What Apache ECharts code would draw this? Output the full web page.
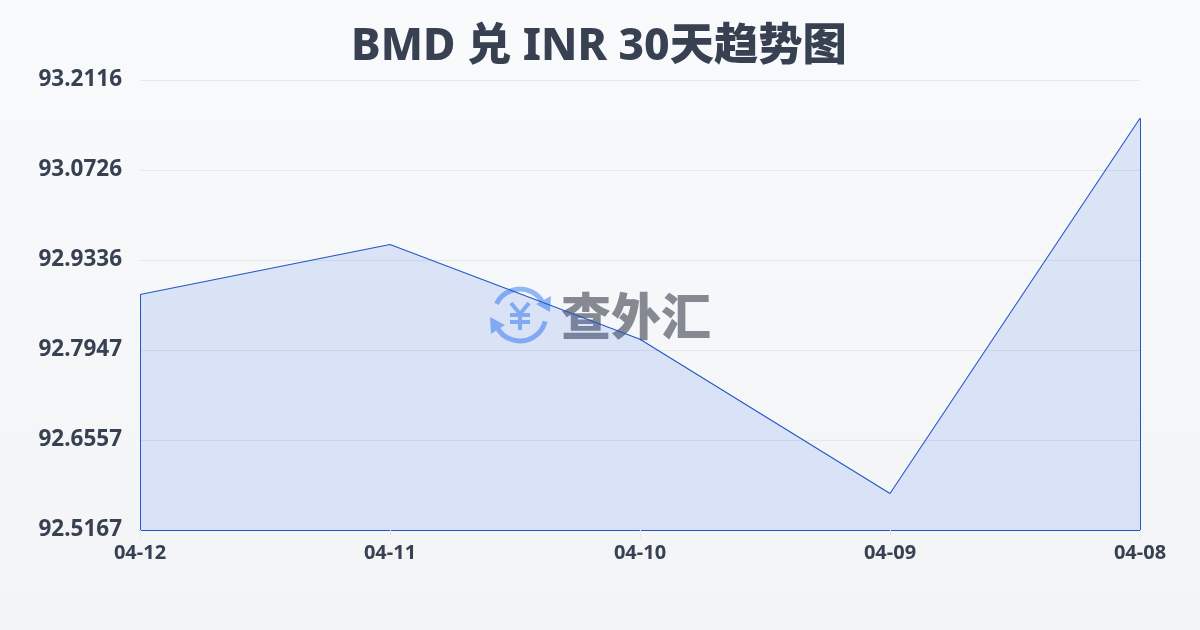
<!DOCTYPE html>
<html><head><meta charset="utf-8">
<style>html,body{margin:0;padding:0;width:1200px;height:630px;overflow:hidden}#c{width:1200px;height:630px}</style>
<script src="https://cdn.jsdelivr.net/npm/echarts@6/dist/echarts.min.js"></script>
</head><body><div id="c"></div>
<script>
const categories = ['04-12','04-11','04-10','04-09','04-08'];
const values = [92.8803, 92.9575, 92.8112, 92.5730, 93.1525];
const axisMin = 92.5167, axisMax = 93.2116;
const yTicks = [92.5167, 92.6557, 92.7947, 92.9336, 93.0726, 93.2116];
const titleText = 'BMD 兑 INR 30天趋势图';
const font = '"Noto Sans","Noto Sans CJK SC",sans-serif';
const blue = '#8fb6f5';
const lineColor = '#2357c6';
const n = categories.length - 1;
const chart = echarts.init(document.getElementById('c'), null, {renderer:'canvas'});
const bar = (x1,y1,x2,y2)=>({type:'line',shape:{x1,y1,x2,y2},style:{stroke:blue,lineWidth:4}});
chart.setOption({
  animation:false,
  backgroundColor:new echarts.graphic.LinearGradient(0,0,0,1,[{offset:0,color:'#f9fafc'},{offset:1,color:'#f3f4f6'}]),
  title:{text:titleText,left:594,textAlign:'center',top:20,textStyle:{fontFamily:font,fontSize:44.3,fontWeight:800,color:'#374151'}},
  grid:{left:140,right:60,top:80,bottom:100},
  xAxis:{type:'category',data:categories,boundaryGap:false,
    axisLine:{show:true,lineStyle:{color:lineColor,width:1}},
    axisTick:{show:true,length:8,lineStyle:{color:'#e9e9e4'}},
    axisLabel:{fontFamily:font,fontSize:20,fontWeight:700,color:'#374151',margin:13,
      hideOverlap:false,interval:0}},
  yAxis:{type:'value',min:axisMin,max:axisMax,
    axisLine:{show:false},axisTick:{show:false,customValues:yTicks},
    splitLine:{show:true,lineStyle:{color:'#e5e7eb',width:1}},
    axisLabel:{fontFamily:font,fontSize:22.5,fontWeight:700,color:'#374151',margin:18,
      verticalAlign:'middle',lineHeight:26,padding:[0,0,4,0],
      customValues:yTicks,formatter:v=>v.toFixed(4)}},
  series:[{type:'line',data:values,symbol:'none',smooth:false,
    lineStyle:{color:lineColor,width:1.1},
    areaStyle:{color:'rgba(37,99,235,0.19)'},z:3,
    markLine:{silent:true,symbol:'none',label:{show:false},animation:false,
      lineStyle:{color:lineColor,width:1,type:'solid'},
      data:[
        [{xAxis:categories[0],yAxis:axisMin},{xAxis:categories[0],yAxis:values[0]}],
        [{xAxis:categories[n],yAxis:axisMin},{xAxis:categories[n],yAxis:values[n]}]
      ]}}],
  graphic:[
    {type:'group',z:1,silent:true,children:[
      {type:'arc',shape:{cx:520,cy:315,r:26,startAngle:-2.7,endAngle:-0.45},style:{fill:'none',stroke:blue,lineWidth:5}},
      {type:'arc',shape:{cx:520,cy:315,r:26,startAngle:0.25,endAngle:2.75},style:{fill:'none',stroke:blue,lineWidth:5}},
      {type:'polygon',shape:{points:[[551,296],[550,312],[536,304]]},style:{fill:blue}},
      {type:'polygon',shape:{points:[[490,317],[505,325],[491,334]]},style:{fill:blue}},
      bar(511,303,520,314),bar(529,303,520,314),bar(520,314,520,330),bar(510,315,530,315),bar(510,322,530,322),
      {type:'text',style:{text:'查外汇',x:561,y:316,align:'left',verticalAlign:'middle',fontSize:50,fontWeight:900,fontFamily:'"Noto Sans CJK SC"',fill:'#858992'}}
    ]}
  ]
});
</script></body></html>
